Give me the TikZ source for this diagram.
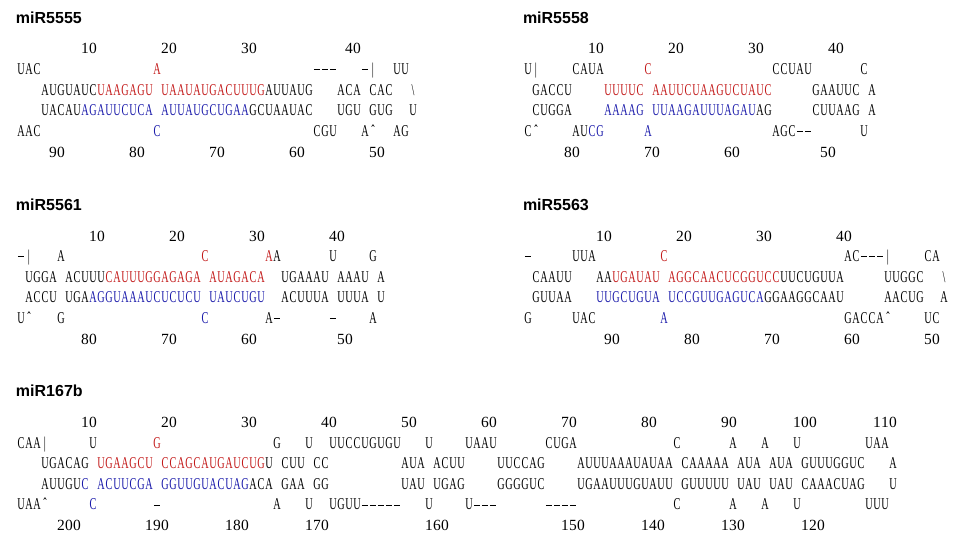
\documentclass[tikz,border=0pt]{standalone}
\usepackage{fontspec}
\usepackage{graphicx}
\newfontfamily\titlefont{Liberation Sans}
\newfontfamily\seqfont{Liberation Serif}
\definecolor{seqred}{RGB}{195,25,25}
\definecolor{seqblue}{RGB}{25,25,170}
\newlength\cw
\setlength\cw{8pt}
\def\mscale{0.62}
\newcommand\Rd[1]{\textcolor{seqred}{#1}}
\newcommand\Bl[1]{\textcolor{seqblue}{#1}}
\newcommand\bs{\textbackslash}
\newcommand\ct{\symbol{"02C6}}
% one character per fixed cell
\def\monochar#1{\ifx#1-\makebox[\cw]{\rule[4.4pt]{6.4pt}{0.8pt}}\else\makebox[\cw]{\scalebox{\mscale}[1]{#1}}\fi}
\def\monoloop#1{\ifx#1\relax\let\mnext\relax
  \else\ifx#1\Rd\let\mnext\monored
  \else\ifx#1\Bl\let\mnext\monoblue
  \else\monochar{#1}\let\mnext\monoloop\fi\fi\fi\mnext}
\def\monored#1{\textcolor{seqred}{\monoloop#1\relax}\monoloop}
\def\monoblue#1{\textcolor{seqblue}{\monoloop#1\relax}\monoloop}
\newcommand\at[2]{\rlap{\hspace*{#1\cw}\monoloop#2\relax}}
\newcommand\seqtext[1]{\fontsize{16.5pt}{18pt}\selectfont\seqfont #1}
\newcommand\numtext[1]{\fontsize{15.5pt}{18pt}\selectfont\seqfont #1}
\newcommand\row[4]{\node[seq] (#1) at (#2,#3) {\seqtext{#4}};}
\newcommand\nrow[4]{\node[seq] (#1) at (#2,#3) {\def\mscale{1}\numtext{#4}};}
\begin{document}
\begin{tikzpicture}[x=1pt,y=-1pt,
  seq/.style={anchor=base west,inner sep=0pt,outer sep=0pt},
  ttl/.style={anchor=base west,inner sep=0pt,outer sep=0pt,font={\titlefont\fontsize{16pt}{18pt}\selectfont\bfseries}}]
\fill[white] (0,0) rectangle (960,543);
\useasboundingbox (0,0) rectangle (960,543);
% ---------------- miR5555
\node[ttl] (t1) at (16,23.2) {miR5555};
\nrow{a0}{16.5}{54}{\at{8}{10}\at{18}{20}\at{28}{30}\at{41}{40}}
\row{a1}{16.5}{74.6}{\at{0}{UAC}\at{17}{\Rd{A}}\at{37}{---}\at{43}{-|}\at{47}{UU}}
\row{a2}{16.5}{95.2}{\at{3}{AUGUAUC\Rd{UAAGAGU~UAAUAUGACUUUG}AUUAUG}\at{40}{ACA~CAC}\at{49}{\bs}}
\row{a3}{16.5}{115.8}{\at{3}{UACAU\Bl{AGAUUCUCA~AUUAUGCUGAA}GCUAAUAC}\at{40}{UGU~GUG}\at{49}{U}}
\row{a4}{16.5}{136.4}{\at{0}{AAC}\at{17}{\Bl{C}}\at{37}{CGU}\at{43}{A\ct}\at{47}{AG}}
\nrow{a5}{16.5}{157}{\at{4}{90}\at{14}{80}\at{24}{70}\at{34}{60}\at{44}{50}}
% ---------------- miR5558
\node[ttl] (t2) at (523,23.2) {miR5558};
\nrow{b0}{523.5}{54}{\at{8}{10}\at{18}{20}\at{28}{30}\at{38}{40}}
\row{b1}{523.5}{74.6}{\at{0}{U|}\at{6}{CAUA}\at{15}{\Rd{C}}\at{31}{CCUAU}\at{42}{C}}
\row{b2}{523.5}{95.2}{\at{1}{GACCU}\at{10}{\Rd{UUUUC~AAUUCUAAGUCUAUC}}\at{36}{GAAUUC}\at{43}{A}}
\row{b3}{523.5}{115.8}{\at{1}{CUGGA}\at{10}{\Bl{AAAAG~UUAAGAUUUAGAU}AG}\at{36}{CUUAAG}\at{43}{A}}
\row{b4}{523.5}{136.4}{\at{0}{C\ct}\at{6}{AU\Bl{CG}}\at{15}{\Bl{A}}\at{31}{AGC--}\at{42}{U}}
\nrow{b5}{523.5}{157}{\at{5}{80}\at{15}{70}\at{25}{60}\at{37}{50}}
% ---------------- miR5561
\node[ttl] (t3) at (16,210.2) {miR5561};
\nrow{c0}{16.5}{241}{\at{9}{10}\at{19}{20}\at{29}{30}\at{39}{40}}
\row{c1}{16.5}{261.6}{\at{0}{-|}\at{5}{A}\at{23}{\Rd{C}}\at{31}{\Rd{A}A}\at{39}{U}\at{44}{G}}
\row{c2}{16.5}{282.2}{\at{1}{UGGA}\at{6}{ACUUU\Rd{CAUUUGGAGAGA~AUAGACA}}\at{33}{UGAAAU}\at{40}{AAAU}\at{45}{A}}
\row{c3}{16.5}{302.8}{\at{1}{ACCU}\at{6}{UGA\Bl{AGGUAAAUCUCUCU~UAUCUGU}}\at{33}{ACUUUA}\at{40}{UUUA}\at{45}{U}}
\row{c4}{16.5}{323.4}{\at{0}{U\ct}\at{5}{G}\at{23}{\Bl{C}}\at{31}{A-}\at{39}{-}\at{44}{A}}
\nrow{c5}{16.5}{344}{\at{8}{80}\at{18}{70}\at{28}{60}\at{40}{50}}
% ---------------- miR5563
\node[ttl] (t4) at (523,210.2) {miR5563};
\nrow{d0}{523.5}{241}{\at{9}{10}\at{19}{20}\at{29}{30}\at{39}{40}}
\row{d1}{523.5}{261.6}{\at{0}{-}\at{6}{UUA}\at{17}{\Rd{C}}\at{40}{AC---|}\at{50}{CA}}
\row{d2}{523.5}{282.2}{\at{1}{CAAUU}\at{9}{AA\Rd{UGAUAU~AGGCAACUCGGUCC}UUCUGUUA}\at{45}{UUGGC}\at{52}{\bs}}
\row{d3}{523.5}{302.8}{\at{1}{GUUAA}\at{9}{\Bl{UUGCUGUA~UCCGUUGAGUCA}GGAAGGCAAU}\at{45}{AACUG}\at{52}{A}}
\row{d4}{523.5}{323.4}{\at{0}{G}\at{6}{UAC}\at{17}{\Bl{A}}\at{40}{GACCA\ct}\at{50}{UC}}
\nrow{d5}{523.5}{344}{\at{10}{90}\at{20}{80}\at{30}{70}\at{40}{60}\at{50}{50}}
% ---------------- miR167b
\node[ttl] (t5) at (16,396.7) {miR167b};
\nrow{e0}{16.5}{427.5}{\at{8}{10}\at{18}{20}\at{28}{30}\at{38}{40}\at{48}{50}\at{58}{60}\at{68}{70}\at{78}{80}\at{88}{90}\at{97}{100}\at{107}{110}}
\row{e1}{16.5}{448.1}{\at{0}{CAA|}\at{9}{U}\at{17}{\Rd{G}}\at{32}{G}\at{36}{U}\at{39}{UUCCUGUGU}\at{51}{U}\at{56}{UAAU}\at{66}{CUGA}\at{82}{C}\at{89}{A}\at{93}{A}\at{97}{U}\at{106}{UAA}}
\row{e2}{16.5}{468.7}{\at{3}{UGACAG~\Rd{UGAAGCU~CCAGCAUGAUCUG}U~CUU~CC}\at{48}{AUA~ACUU}\at{60}{UUCCAG}\at{70}{AUUUAAAUAUAA~CAAAAA~AUA~AUA~GUUUGGUC}\at{109}{A}}
\row{e3}{16.5}{489.3}{\at{3}{AUUGU\Bl{C~ACUUCGA~GGUUGUACUAG}ACA~GAA~GG}\at{48}{UAU~UGAG}\at{60}{GGGGUC}\at{70}{UGAAUUUGUAUU~GUUUUU~UAU~UAU~CAAACUAG}\at{109}{U}}
\row{e4}{16.5}{509.9}{\at{0}{UAA\ct}\at{9}{\Bl{C}}\at{17}{-}\at{32}{A}\at{36}{U}\at{39}{UGUU-----}\at{51}{U}\at{56}{U---}\at{66}{----}\at{82}{C}\at{89}{A}\at{93}{A}\at{97}{U}\at{106}{UUU}}
\nrow{e5}{16.5}{530.5}{\at{5}{200}\at{16}{190}\at{26}{180}\at{36}{170}\at{51}{160}\at{68}{150}\at{78}{140}\at{88}{130}\at{98}{120}}
\end{tikzpicture}
\end{document}
